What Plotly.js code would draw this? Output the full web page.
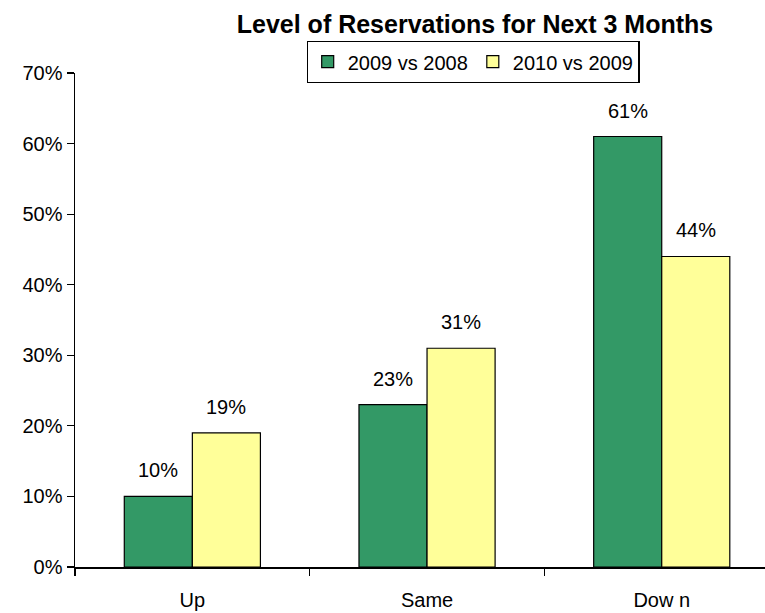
<!DOCTYPE html>
<html>
<head>
<meta charset="utf-8">
<script src="https://cdn.plot.ly/plotly-3.0.1.min.js"></script>
<style>html,body{margin:0;padding:0;background:#fff;}#chart{width:765px;height:613px;}</style>
</head>
<body>
<div id="chart"></div>
<script>
var categories = ["Up", "Same", "Dow n"];
var seriesNames = ["2009 vs 2008", "2010 vs 2009"];
var values2009 = [10, 23, 61];
var values2010 = [19, 31, 44];
var yTickVals = [0, 10, 20, 30, 40, 50, 60, 70];
var yTickText = ["0%", "10%", "20%", "30%", "40%", "50%", "60%", "70%"];

var FONT = "Liberation Sans, Arial, sans-serif";
var colors = ["#339966", "#FFFF99"];
var series = [values2009, values2010];

var traces = series.map(function (vals, i) {
  return {
    type: "bar",
    name: seriesNames[i],
    x: categories,
    y: vals,
    marker: { color: colors[i], line: { color: "#000", width: 1.2 } },
    hoverinfo: "skip"
  };
});

var annotations = [];
series.forEach(function (vals, i) {
  vals.forEach(function (v, j) {
    annotations.push({
      x: categories[j], y: v, xref: "x", yref: "y",
      text: v + "%", showarrow: false,
      xshift: (i === 0 ? -34 : 34), yshift: 26,
      yanchor: "middle", xanchor: "center",
      font: { family: FONT, size: 20, color: "#000" }
    });
  });
});

var layout = {
  width: 765, height: 613,
  margin: { l: 75, r: 0, t: 73, b: 46 },
  paper_bgcolor: "#fff", plot_bgcolor: "#fff",
  font: { family: FONT, size: 20, color: "#000" },
  title: {
    text: "<b>Level of Reservations for Next 3 Months</b>",
    font: { family: FONT, size: 25, color: "#000" },
    xref: "container", x: 475 / 765, xanchor: "center",
    yref: "container", y: 1 - 24 / 613, yanchor: "middle"
  },
  barmode: "group",
  bargap: 0.42,
  bargroupgap: 0,
  showlegend: true,
  legend: {
    orientation: "h",
    x: (473 - 75) / 690, xanchor: "center",
    y: 1 + (73 - 62) / 494, yanchor: "middle",
    bordercolor: "#000", borderwidth: 1.2,
    font: { family: FONT, size: 20, color: "#000" },
    traceorder: "normal",
    itemwidth: 30
  },
  xaxis: {
    type: "category",
    range: [-0.5, 2.44],
    showline: true, linecolor: "#000", linewidth: 1.5,
    ticks: "outside", tickson: "boundaries", ticklen: 7, tickcolor: "#000", tickwidth: 1.2,
    ticklabelstandoff: 14,
    showgrid: false, zeroline: false,
    tickfont: { family: FONT, size: 20, color: "#000" }
  },
  yaxis: {
    range: [0, 70],
    tickvals: yTickVals, ticktext: yTickText,
    showline: true, linecolor: "#000", linewidth: 1.5,
    ticks: "outside", ticklen: 7, tickcolor: "#000", tickwidth: 1.2,
    showgrid: false, zeroline: false,
    tickfont: { family: FONT, size: 20, color: "#000" }
  },
  annotations: annotations
};

Plotly.newPlot("chart", traces, layout, { displayModeBar: false, staticPlot: true });
</script>
</body>
</html>
